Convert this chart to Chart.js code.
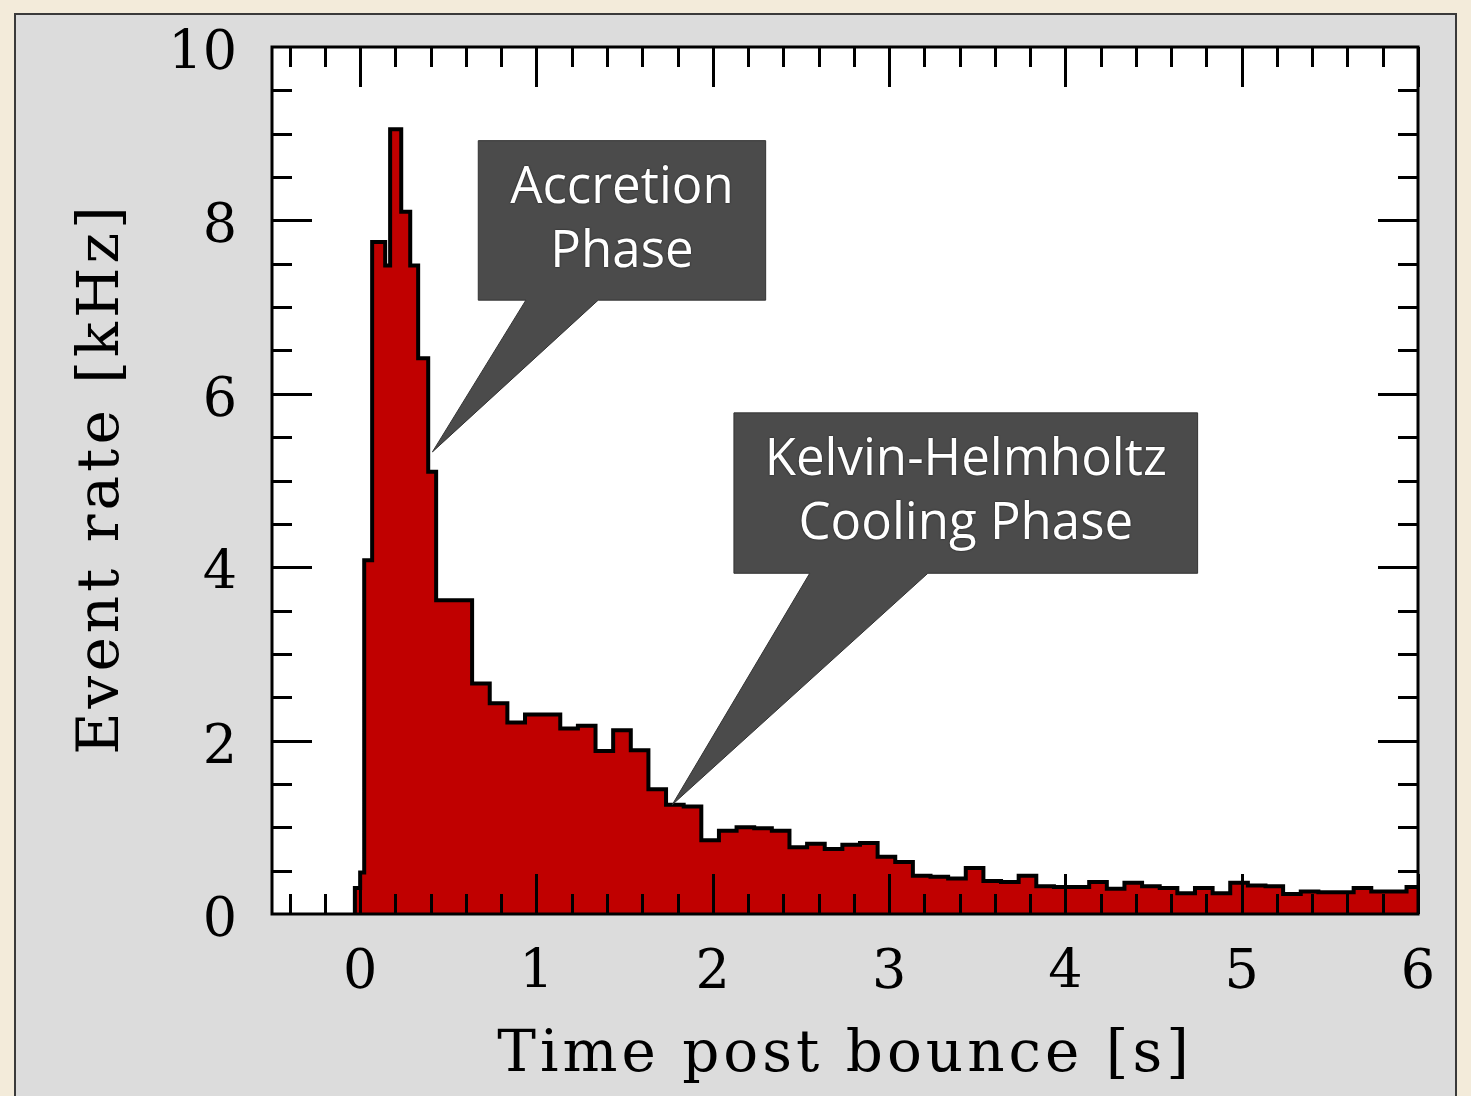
<!DOCTYPE html>
<html>
<head>
<meta charset="utf-8">
<title>Event rate</title>
<script src="https://cdn.jsdelivr.net/npm/chart.js@4.4.1/dist/chart.umd.min.js"></script>
<style>
  body { margin: 0; width: 1471px; height: 1096px; overflow: hidden; position: relative; background: #f3ebda; }
  #panel { position: absolute; left: 14px; top: 13px; width: 1443px; height: 1100px; background: #dcdcdc; border: 2px solid #3a3a3a; box-sizing: border-box; }
  #chart { position: absolute; left: 0; top: 0; }
</style>
</head>
<body>
<div id="panel"></div>
<canvas id="chart" width="1471" height="1096"></canvas>
<script>
// start time of each bin [s] and event rate in that bin [kHz]
var binStart = [-0.03, 0.0, 0.023, 0.068, 0.142, 0.17, 0.233, 0.284, 0.329, 0.386, 0.431,
    0.635, 0.735, 0.835, 0.935, 1.035, 1.135, 1.235, 1.335, 1.435, 1.535,
    1.635, 1.735, 1.835, 1.935, 2.035, 2.135, 2.235, 2.335, 2.435, 2.535,
    2.635, 2.735, 2.835, 2.935, 3.035, 3.135, 3.235, 3.335, 3.435, 3.535,
    3.635, 3.735, 3.835, 3.935, 4.035, 4.135, 4.235, 4.335, 4.435, 4.535,
    4.635, 4.735, 4.835, 4.935, 5.035, 5.135, 5.235, 5.335, 5.435, 5.535,
    5.635, 5.735, 5.835, 5.935];
var rate = [0.30, 0.48, 4.08, 7.75, 7.48, 9.05, 8.10, 7.48, 6.41, 5.10, 3.62,
    2.66, 2.43, 2.21, 2.30, 2.30, 2.14, 2.17, 1.88, 2.12, 1.89,
    1.44, 1.26, 1.24, 0.85, 0.96, 1.00, 0.99, 0.96, 0.77, 0.81,
    0.75, 0.80, 0.82, 0.66, 0.60, 0.44, 0.43, 0.41, 0.53, 0.38,
    0.37, 0.44, 0.32, 0.31, 0.31, 0.37, 0.29, 0.36, 0.32, 0.30,
    0.24, 0.30, 0.24, 0.36, 0.33, 0.32, 0.23, 0.26, 0.25, 0.25,
    0.30, 0.26, 0.26, 0.31];
var binEnd = 6.0;

var xTickLabels = [0, 1, 2, 3, 4, 5, 6];
var yTickLabels = [0, 2, 4, 6, 8, 10];

var xTitle = 'Time post bounce [s]';
var yTitle = 'Event rate [kHz]';

// speech-bubble notes, box corners and pointer given in data units
var notes = [
    {lines: ['Accretion', 'Phase'], x0: 0.67, x1: 2.30, y0: 8.92, y1: 7.08, base: [0.94, 1.35], tip: [0.41, 5.33]},
    {lines: ['Kelvin-Helmholtz', 'Cooling Phase'], x0: 2.12, x1: 4.75, y0: 5.78, y1: 3.93, base: [2.55, 3.22], tip: [1.77, 1.26]}
];

var points = [{x: binStart[0], y: 0}];
for (var i = 0; i < binStart.length; i++) {
    points.push({x: binStart[i], y: rate[i]});
}
points.push({x: binEnd, y: rate[rate.length - 1]});

// small lineHeight on the y labels keeps them from pushing the plot top down
var xTickFont = {family: 'DejaVu Serif', size: 54, lineHeight: 1};
var yTickFont = {family: 'DejaVu Serif', size: 54, lineHeight: 0.4};

// white plot area, inward ticks on all four sides, frame, axis titles
var frame = {
    id: 'frame',
    beforeDatasetsDraw: function(chart) {
        var a = chart.chartArea, ctx = chart.ctx;
        ctx.save();
        ctx.fillStyle = '#fff';
        ctx.fillRect(a.left, a.top, a.right - a.left, a.bottom - a.top);
        ctx.restore();
    },
    afterDatasetsDraw: function(chart) {
        var a = chart.chartArea, ctx = chart.ctx;
        var xs = chart.scales.x, ys = chart.scales.y;
        ctx.save();
        ctx.strokeStyle = '#000';
        ctx.lineWidth = 3;
        ctx.beginPath();
        for (var k = -4; k <= 60; k += 2) {
            var px = Math.round(xs.getPixelForValue(k / 10)) + 0.5;
            var len = (k % 10 === 0) ? 40 : 20;
            ctx.moveTo(px, a.bottom); ctx.lineTo(px, a.bottom - len);
            ctx.moveTo(px, a.top); ctx.lineTo(px, a.top + len);
        }
        for (var j = 1; j < 20; j++) {
            var py = Math.round(ys.getPixelForValue(j / 2)) + 0.5;
            var l2 = (j % 4 === 0) ? 40 : 20;
            ctx.moveTo(a.left, py); ctx.lineTo(a.left + l2, py);
            ctx.moveTo(a.right, py); ctx.lineTo(a.right - l2, py);
        }
        ctx.stroke();
        ctx.strokeRect(a.left, a.top, a.right - a.left, a.bottom - a.top);

        ctx.fillStyle = '#000';
        ctx.font = '58px "DejaVu Serif"';
        ctx.letterSpacing = '4px';
        ctx.textAlign = 'center';
        ctx.textBaseline = 'alphabetic';
        ctx.fillText(xTitle, (a.left + a.right) / 2, 1071);
        ctx.translate(118, (a.top + a.bottom) / 2 - 2);
        ctx.rotate(-Math.PI / 2);
        ctx.fillText(yTitle, 0, 0);
        ctx.restore();
    }
};

var callouts = {
    id: 'callouts',
    afterDraw: function(chart) {
        var ctx = chart.ctx, xs = chart.scales.x, ys = chart.scales.y;
        ctx.save();
        notes.forEach(function(n) {
            var left = xs.getPixelForValue(n.x0), right = xs.getPixelForValue(n.x1);
            var top = ys.getPixelForValue(n.y0), bottom = ys.getPixelForValue(n.y1);
            ctx.fillStyle = '#4b4b4b';
            ctx.strokeStyle = '#333';
            ctx.lineWidth = 1;
            ctx.beginPath();
            ctx.moveTo(left, top);
            ctx.lineTo(right, top);
            ctx.lineTo(right, bottom);
            ctx.lineTo(xs.getPixelForValue(n.base[1]), bottom);
            ctx.lineTo(xs.getPixelForValue(n.tip[0]), ys.getPixelForValue(n.tip[1]));
            ctx.lineTo(xs.getPixelForValue(n.base[0]), bottom);
            ctx.lineTo(left, bottom);
            ctx.closePath();
            ctx.fill();
            ctx.stroke();

            ctx.fillStyle = '#fff';
            ctx.font = '51px "Open Sans"';
            ctx.textAlign = 'center';
            ctx.textBaseline = 'alphabetic';
            ctx.shadowColor = 'rgba(0,0,0,0.7)';
            ctx.shadowBlur = 2;
            n.lines.forEach(function(t, i) {
                ctx.fillText(t, (left + right) / 2, top + 62 + i * 64);
            });
            ctx.shadowBlur = 0;
        });
        ctx.restore();
    }
};

var chart = new Chart(document.getElementById('chart').getContext('2d'), {
    type: 'line',
    data: {
        datasets: [{
            data: points,
            stepped: 'before',
            fill: 'origin',
            backgroundColor: '#c00000',
            borderColor: '#000',
            borderWidth: 4,
            borderJoinStyle: 'miter',
            pointRadius: 0
        }]
    },
    options: {
        responsive: false,
        animation: false,
        devicePixelRatio: 1,
        layout: {padding: {top: 47, right: 53, left: 0, bottom: 0}},
        plugins: {legend: {display: false}, tooltip: {enabled: false}},
        scales: {
            x: {
                type: 'linear', min: -0.5, max: binEnd,
                grid: {display: false, drawTicks: false},
                border: {display: false},
                afterBuildTicks: function(s) { s.ticks = xTickLabels.map(function(v) { return {value: v}; }); },
                afterFit: function(s) { s.height = 182; },
                ticks: {color: '#000', padding: 33, font: xTickFont}
            },
            y: {
                min: 0, max: 10,
                grid: {display: false, drawTicks: false},
                border: {display: false},
                afterBuildTicks: function(s) { s.ticks = yTickLabels.map(function(v) { return {value: v}; }); },
                afterFit: function(s) { s.width = 272; },
                ticks: {color: '#000', padding: 35, labelOffset: 8, font: yTickFont}
            }
        }
    },
    plugins: [frame, callouts]
});
</script>
</body>
</html>
